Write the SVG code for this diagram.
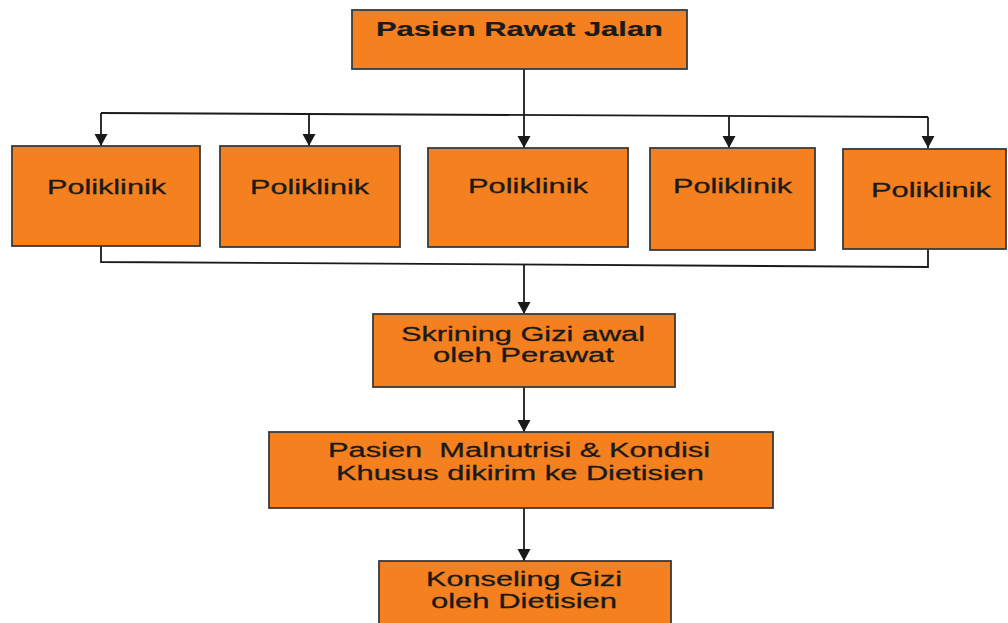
<svg xmlns="http://www.w3.org/2000/svg" width="1008" height="623" viewBox="0 0 1008 623">
  <style>
    .box { fill: #F4801F; stroke: #3a3a3a; stroke-width: 1.8; }
    .lbl { font-family: "Liberation Sans", Arial, sans-serif; font-size: 20px; fill: #1a1a1a; stroke: #1a1a1a; stroke-width: 0.3; text-anchor: start; }
    .bold { font-weight: bold; stroke-width: 0.2; }
    .wire { fill: none; stroke: #1a1a1a; stroke-width: 1.8; }
    .arrow { fill: none; stroke: #1a1a1a; stroke-width: 1.8; marker-end: url(#head); }
  </style>
  <defs>
    <marker id="head" markerUnits="userSpaceOnUse" markerWidth="16" markerHeight="13" viewBox="0 0 16 13" refX="8" refY="12" orient="0">
      <path d="M1.5,0 L14.5,0 L8,12 Z" fill="#1a1a1a"/>
    </marker>
  </defs>

  <rect width="1008" height="623" fill="#ffffff"/>

  <!-- connectors -->
  <g id="connectors">
    <line class="wire" x1="524" y1="69" x2="524" y2="115"/>
    <line class="wire" x1="101" y1="113" x2="928" y2="117"/>
    <line class="arrow" x1="101" y1="113" x2="101" y2="146"/>
    <line class="arrow" x1="309" y1="114" x2="309" y2="146"/>
    <line class="arrow" x1="524" y1="115" x2="524" y2="148"/>
    <line class="arrow" x1="729" y1="116" x2="729" y2="148"/>
    <line class="arrow" x1="928" y1="117" x2="928" y2="148"/>
    <polyline class="wire" points="101,246 101,262 928,267 928,249"/>
    <line class="arrow" x1="524" y1="264" x2="524" y2="314"/>
    <line class="arrow" x1="524" y1="387" x2="524" y2="432"/>
    <line class="arrow" x1="524" y1="508" x2="524" y2="561"/>
  </g>

  <g id="pasien-rawat-jalan">
    <rect class="box" x="352" y="10" width="335" height="59"/>
    <text class="lbl bold" x="376" y="36" textLength="287" lengthAdjust="spacingAndGlyphs">Pasien Rawat Jalan</text>
  </g>

  <g id="poliklinik-1">
    <rect class="box" x="12" y="146" width="188" height="100"/>
    <text class="lbl" x="47" y="194" textLength="119" lengthAdjust="spacingAndGlyphs">Poliklinik</text>
  </g>
  <g id="poliklinik-2">
    <rect class="box" x="220" y="146" width="180" height="101"/>
    <text class="lbl" x="250" y="194" textLength="119" lengthAdjust="spacingAndGlyphs">Poliklinik</text>
  </g>
  <g id="poliklinik-3">
    <rect class="box" x="428" y="148" width="200" height="99"/>
    <text class="lbl" x="468" y="193" textLength="120" lengthAdjust="spacingAndGlyphs">Poliklinik</text>
  </g>
  <g id="poliklinik-4">
    <rect class="box" x="650" y="148" width="165" height="102"/>
    <text class="lbl" x="673" y="193" textLength="119" lengthAdjust="spacingAndGlyphs">Poliklinik</text>
  </g>
  <g id="poliklinik-5">
    <rect class="box" x="843" y="149" width="163" height="100"/>
    <text class="lbl" x="871" y="197" textLength="120" lengthAdjust="spacingAndGlyphs">Poliklinik</text>
  </g>

  <g id="skrining">
    <rect class="box" x="373" y="314" width="302" height="73"/>
    <text class="lbl" x="401" y="341" textLength="244" lengthAdjust="spacingAndGlyphs">Skrining Gizi awal</text>
    <text class="lbl" x="433" y="362" textLength="181" lengthAdjust="spacingAndGlyphs">oleh Perawat</text>
  </g>

  <g id="malnutrisi">
    <rect class="box" x="269" y="432" width="504" height="76"/>
    <text class="lbl" x="328" y="457" textLength="382" lengthAdjust="spacingAndGlyphs" xml:space="preserve">Pasien  Malnutrisi &amp; Kondisi</text>
    <text class="lbl" x="336" y="480" textLength="368" lengthAdjust="spacingAndGlyphs">Khusus dikirim ke Dietisien</text>
  </g>

  <g id="konseling">
    <rect class="box" x="379" y="561" width="292" height="70"/>
    <text class="lbl" x="426" y="586" textLength="196" lengthAdjust="spacingAndGlyphs">Konseling Gizi</text>
    <text class="lbl" x="431" y="608" textLength="186" lengthAdjust="spacingAndGlyphs">oleh Dietisien</text>
  </g>
</svg>
